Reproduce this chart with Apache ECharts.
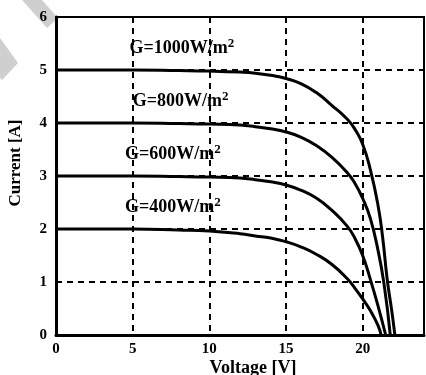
<!DOCTYPE html>
<html>
<head>
<meta charset="utf-8">
<script src="https://cdn.jsdelivr.net/npm/echarts@6/dist/echarts.min.js"></script>
<style>
  html, body { margin: 0; padding: 0; background: #fff; }
  #main { width: 426px; height: 375px; }
</style>
</head>
<body>
<div id="main"></div>
<script>
  // voltage [V] / current [A] per irradiance
  const v1000 = [0, 5, 8, 10, 12, 13, 14, 15, 16, 17, 18, 19, 19.5, 20, 20.5, 21, 21.3, 21.6, 21.9, 22.1];
  const i1000 = [5.0, 5.0, 4.99, 4.98, 4.96, 4.94, 4.9, 4.84, 4.74, 4.57, 4.33, 4.07, 3.88, 3.6, 3.12, 2.45, 1.85, 1.05, 0.45, 0];
  const v800 = [0, 5, 8, 10, 12, 13, 14, 15, 16, 17, 18, 19, 19.5, 20, 20.5, 21, 21.4, 21.8];
  const i800 = [4.0, 4.0, 3.99, 3.98, 3.96, 3.93, 3.89, 3.83, 3.73, 3.57, 3.35, 3.06, 2.86, 2.58, 2.2, 1.6, 0.95, 0];
  const v600 = [0, 5, 8, 10, 12, 13, 14, 15, 16, 17, 18, 19, 19.5, 20, 20.5, 21, 21.5];
  const i600 = [3.0, 3.0, 2.99, 2.98, 2.96, 2.93, 2.89, 2.83, 2.73, 2.58, 2.35, 2.05, 1.82, 1.5, 1.05, 0.55, 0];
  const v400 = [0, 5, 8, 10, 12, 13, 14, 15, 16, 17, 18, 19, 19.5, 20, 20.5, 21, 21.2];
  const i400 = [2.0, 2.0, 1.98, 1.96, 1.91, 1.87, 1.83, 1.76, 1.66, 1.52, 1.33, 1.06, 0.88, 0.68, 0.46, 0.18, 0];

  const irradiance = ['1000', '800', '600', '400'];
  const labelAt = [[4.8, 5.4], [5.0, 4.4], [4.5, 3.4], [4.5, 2.4]];

  const serif = '"Liberation Serif", "DejaVu Serif", serif';
  const curves = [[v1000, i1000], [v800, i800], [v600, i600], [v400, i400]];

  const myChart = echarts.init(document.getElementById('main'));

  const series = curves.map(function (c, k) {
    return {
      type: 'line',
      smooth: 0.5,
      showSymbol: false,
      lineStyle: { color: '#000', width: 3 },
      data: c[0].map(function (v, j) { return [v, c[1][j]]; }),
      markPoint: {
        symbolSize: 0,
        label: {
          show: true,
          position: 'right',
          distance: 0,
          formatter: '{a|G=' + irradiance[k] + 'W/m}{s|2}',
          rich: {
            a: { fontFamily: serif, fontWeight: 'bold', fontSize: 18, color: '#000' },
            s: { fontFamily: serif, fontWeight: 'bold', fontSize: 13, color: '#000', padding: [0, 0, 10, 0] }
          }
        },
        data: [{ coord: labelAt[k] }]
      }
    };
  });

  const option = {
    animation: false,
    grid: { left: 56, right: 2, top: 17, bottom: 40, outerBoundsMode: 'none', show: true, borderColor: '#000', borderWidth: 2 },
    xAxis: {
      type: 'value', min: 0, max: 24, interval: 5,
      name: 'Voltage [V]', nameLocation: 'middle', nameGap: 24, nameMoveOverlap: false,
      nameTextStyle: { fontFamily: serif, fontWeight: 'bold', fontSize: 18, color: '#000', padding: [0, 0, 0, 26] },
      axisLine: { lineStyle: { color: '#000', width: 3 } },
      axisTick: { show: false },
      axisLabel: { showMaxLabel: false, margin: 7, fontFamily: serif, fontWeight: 'bold', fontSize: 15, color: '#000' },
      splitLine: { lineStyle: { color: '#000', width: 2, type: [6, 5] } }
    },
    yAxis: {
      type: 'value', min: 0, max: 6, interval: 1,
      name: 'Current [A]', nameLocation: 'middle', nameGap: 32, nameMoveOverlap: false,
      nameTextStyle: { fontFamily: serif, fontWeight: 'bold', fontSize: 17, color: '#000', padding: [0, 0, 0, 26] },
      axisLine: { show: true, lineStyle: { color: '#000', width: 3 } },
      axisTick: { show: false },
      axisLabel: { margin: 9, fontFamily: serif, fontWeight: 'bold', fontSize: 15, color: '#000' },
      splitLine: { lineStyle: { color: '#000', width: 2, type: [6, 5] } }
    },
    graphic: [
      { type: 'polygon', z: -1, shape: { points: [[22, 0], [42, 0], [58, 18], [47, 28]] }, style: { fill: '#cfcfcf' } },
      { type: 'polygon', z: -1, shape: { points: [[0, 38], [18, 63], [2, 80], [0, 78]] }, style: { fill: '#cfcfcf' } }
    ],
    series: series
  };

  myChart.setOption(option);
</script>
</body>
</html>
